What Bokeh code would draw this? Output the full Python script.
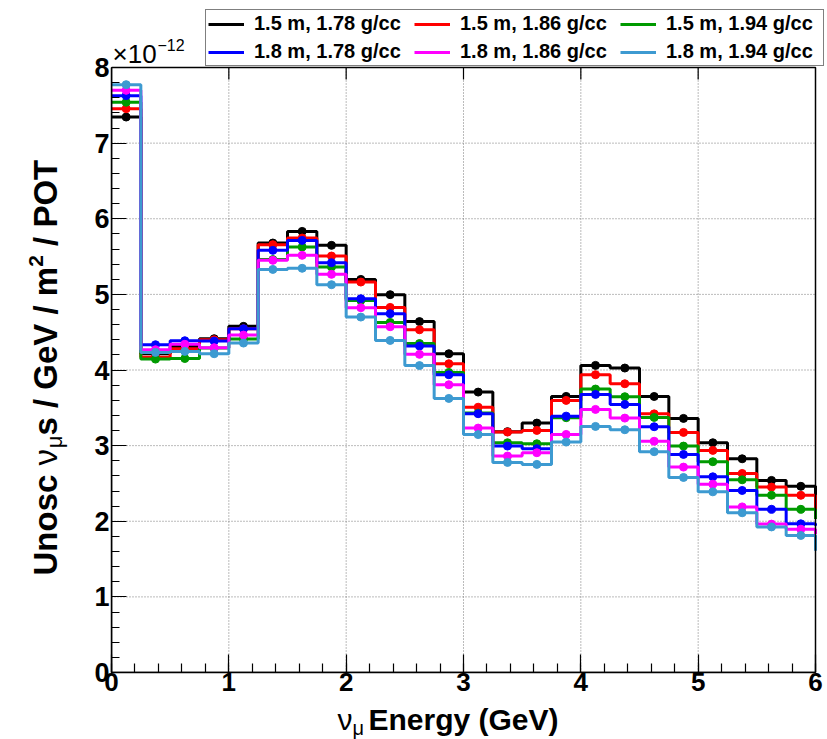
import math
from bokeh.plotting import figure
from bokeh.layouts import row, column
from bokeh.models import (Range1d, Legend, LegendItem, Label, SingleIntervalTicker)
from bokeh.core.properties import value
from bokeh.embed import file_html
from bokeh.resources import INLINE

# ---------------- data (values in units of 1e-12) ----------------
energy_edges = [0.0, 0.25, 0.5, 0.75, 1.0, 1.25, 1.5, 1.75, 2.0, 2.25, 2.5, 2.75,
                3.0, 3.25, 3.5, 3.75, 4.0, 4.25, 4.5, 4.75, 5.0, 5.25, 5.5, 5.75,
                6.0, 6.25]

series_labels = ["1.5 m, 1.78 g/cc", "1.5 m, 1.86 g/cc", "1.5 m, 1.94 g/cc",
                 "1.8 m, 1.78 g/cc", "1.8 m, 1.86 g/cc", "1.8 m, 1.94 g/cc"]

flux_15_178 = [7.345, 4.215, 4.312, 4.414, 4.577, 5.679, 5.833, 5.648, 5.198, 4.996,
               4.640, 4.215, 3.708, 3.185, 3.298, 3.651, 4.061, 4.026, 3.650, 3.360,
               3.038, 2.826, 2.540, 2.462, 2.23]
flux_15_186 = [7.456, 4.170, 4.280, 4.400, 4.545, 5.657, 5.745, 5.507, 5.163, 4.828,
               4.532, 4.083, 3.508, 3.179, 3.201, 3.598, 3.938, 3.818, 3.420, 3.175,
               2.937, 2.632, 2.452, 2.343, 2.16]
flux_15_194 = [7.540, 4.144, 4.152, 4.290, 4.410, 5.460, 5.626, 5.362, 4.920, 4.629,
               4.350, 3.968, 3.430, 3.038, 3.025, 3.369, 3.748, 3.647, 3.373, 2.994,
               2.787, 2.548, 2.344, 2.158, 2.03]
flux_18_178 = [7.628, 4.334, 4.387, 4.383, 4.546, 5.582, 5.714, 5.419, 4.943, 4.745,
               4.317, 3.937, 3.422, 2.994, 2.960, 3.390, 3.677, 3.545, 3.250, 2.884,
               2.588, 2.407, 2.158, 1.966, 1.94]
flux_18_186 = [7.698, 4.268, 4.340, 4.295, 4.462, 5.450, 5.516, 5.265, 4.824, 4.572,
               4.207, 3.805, 3.232, 2.862, 2.906, 3.148, 3.479, 3.364, 3.058, 2.716,
               2.490, 2.190, 1.962, 1.895, 1.83]
flux_18_194 = [7.773, 4.233, 4.246, 4.215, 4.356, 5.330, 5.345, 5.128, 4.700, 4.391,
               4.058, 3.624, 3.146, 2.778, 2.752, 3.047, 3.254, 3.210, 2.920, 2.579,
               2.389, 2.112, 1.925, 1.812, 1.61]

series_values = [flux_15_178, flux_15_186, flux_15_194, flux_18_178, flux_18_186, flux_18_194]
series_colors = ["#000000", "#ff0000", "#009a00", "#0000ff", "#ff00ff", "#3d9ad1"]

x_ticks = [0, 1, 2, 3, 4, 5, 6]
y_ticks = [0, 1, 2, 3, 4, 5, 6, 7, 8]

# ---------------- layout constants (canvas pixels) ----------------
W, H = 827, 739
LW = 80            # left strip holding the y title
BOT = 702          # bottom of the main figure; below it the x title strip
FL, FR, FT, FB = 111, 815, 67, 672
XMIN, XMAX, YMIN, YMAX = x_ticks[0], x_ticks[-1], y_ticks[0], y_ticks[-1]
FONT = "Liberation Sans"
MID = 0.3465       # baseline-to-middle distance, in em

XSCALE = (FR - FL) / (XMAX - XMIN)
YSCALE = (FB - FT) / (YMAX - YMIN)


def sx(px):
    return XMIN + (px - FL) / XSCALE


def sy(py):
    return YMIN + (FB - py) / YSCALE


# ---------------- main figure ----------------
p = figure(width=W - LW, height=BOT, output_backend="svg", toolbar_location=None,
           x_range=Range1d(XMIN, sx(W)), y_range=Range1d(YMIN, sy(0)),
           min_border_left=FL - LW, min_border_right=0,
           min_border_top=0, min_border_bottom=BOT - FB,
           background_fill_color="white", border_fill_color="white")
p.title.visible = False
p.outline_line_color = None
p.xgrid.visible = False
p.ygrid.visible = False

for ax, maj_in, min_in, bnds, fsz in ((p.xaxis[0], 18, 9, (XMIN, XMAX), "26px"),
                                      (p.yaxis[0], 15, 8, (YMIN, YMAX), "27px")):
    ax.ticker = SingleIntervalTicker(interval=1, num_minor_ticks=5)
    ax.bounds = bnds
    ax.major_tick_in = maj_in
    ax.major_tick_out = 0
    ax.minor_tick_in = min_in
    ax.minor_tick_out = 0
    ax.major_tick_line_color = "black"
    ax.minor_tick_line_color = "black"
    ax.major_tick_line_width = 1.2
    ax.minor_tick_line_width = 1.2
    ax.axis_line_color = "black"
    ax.axis_line_width = 1.5
    ax.major_label_text_font = FONT
    ax.major_label_text_font_style = "bold"
    ax.major_label_text_font_size = fsz
    ax.major_label_text_color = "black"
p.xaxis[0].major_label_standoff = 0
p.yaxis[0].major_label_standoff = 2

# dotted grid at the inner major ticks
gx = x_ticks[1:-1]
gy = y_ticks[1:-1]
p.segment(x0=gx, y0=[YMIN] * len(gx), x1=gx, y1=[YMAX] * len(gx),
          line_color="#777777", line_width=1, line_dash="1 2")
p.segment(x0=[XMIN] * len(gy), y0=gy, x1=[XMAX] * len(gy), y1=gy,
          line_color="#777777", line_width=1, line_dash="1 2")

# histograms (the last value of each series is the bin beyond 6 GeV: only its edge shows)
centers = [(a + b) / 2 for a, b in zip(energy_edges[:-1], energy_edges[1:])]
n_vis = len(energy_edges) - 2
items = []
for label, vals, col in zip(series_labels, series_values, series_colors):
    r = p.step(x=energy_edges[:-1], y=vals, mode="after",
               line_color=col, line_width=3)
    p.scatter(x=centers[:n_vis], y=vals[:n_vis], marker="circle", size=8,
              fill_color=col, line_color=col)
    items.append(LegendItem(label=label, renderers=[r]))

# frame box and inward top ticks
p.quad(left=[XMIN], right=[XMAX], bottom=[YMIN], top=[YMAX],
       fill_color=None, line_color="black", line_width=1.5)
p.segment(x0=gx, y0=[YMAX] * len(gx), x1=gx, y1=[YMAX - 12 / YSCALE] * len(gx),
          line_color="black", line_width=1.2)

legend = Legend(items=items, location=(205 - FL, FB - 66), orientation="horizontal",
                ncols=3,
                label_text_font=FONT, label_text_font_style="bold",
                label_text_font_size="20px", label_text_color="black",
                glyph_width=36, glyph_height=20, label_standoff=10,
                label_width=155, label_height=20, spacing=5, padding=2, margin=0,
                border_line_color="black", border_line_width=1.5,
                background_fill_color="white", background_fill_alpha=1.0)
p.add_layout(legend)

# exponent label
p.add_layout(Label(x=sx(112), y=sy(63 - MID * 26), text="×10", text_font=FONT,
                   text_font_size="26px", text_color="black",
                   text_align="left", text_baseline="middle"))
p.add_layout(Label(x=sx(157), y=sy(50 - MID * 16), text="−12", text_font=FONT,
                   text_font_size="16px", text_color="black",
                   text_align="left", text_baseline="middle"))


def strip(width, height, x0, x1, left_border=0):
    f = figure(width=width, height=height, output_backend="svg", toolbar_location=None,
               x_range=Range1d(x0, x1), y_range=Range1d(0, height),
               min_border=0, min_border_left=left_border,
               x_axis_location=None, y_axis_location=None,
               background_fill_color="white", border_fill_color="white")
    f.title.visible = False
    f.outline_line_color = None
    f.xgrid.visible = False
    f.ygrid.visible = False
    return f


# ---------------- y title strip (left), x in canvas pixels ----------------
left = strip(LW, H, 0, LW)
YBX = 56
ytitle_pieces = [
    # text, start (canvas y, text runs upward), baseline shift, size px, style
    ("Unosc", 575.0, 0, 33, "bold"),
    ("ν", 465.0, 0, 33, "normal"),
    ("μ", 447.8, 6, 22, "normal"),
    ("s / GeV / m", 435.1, 0, 33, "bold"),
    ("2", 266.3, -13, 21, "bold"),
    ("/ POT", 245.4, 0, 33, "bold"),
]
for txt, start_py, dx, fs, st in ytitle_pieces:
    left.text(x=[YBX + dx - MID * fs], y=[H - start_py], text=[txt], angle=math.pi / 2,
              text_font=value(FONT), text_font_size=value(f"{fs}px"), text_font_style=st,
              text_align="left", text_baseline="middle", text_color="black")

# ---------------- x title strip (bottom); its frame is aligned with the main frame ----
bottom = strip(W - LW, H - BOT, FL, W, left_border=FL - LW)
XB = 729
xtitle_pieces = [
    ("ν", 337, 0, 30, "normal"),
    ("μ", 352, 5, 20, "normal"),
    ("Energy (GeV)", 368, 0, 30, "bold"),
]
for txt, px, dy, fs, st in xtitle_pieces:
    bottom.text(x=[px], y=[H - (XB + dy - MID * fs)], text=[txt],
                text_font=value(FONT), text_font_size=value(f"{fs}px"), text_font_style=st,
                text_align="left", text_baseline="middle", text_color="black")

layout = row(left, column(p, bottom, spacing=0), spacing=0)
open("out.html", "w").write(file_html(layout, INLINE))
